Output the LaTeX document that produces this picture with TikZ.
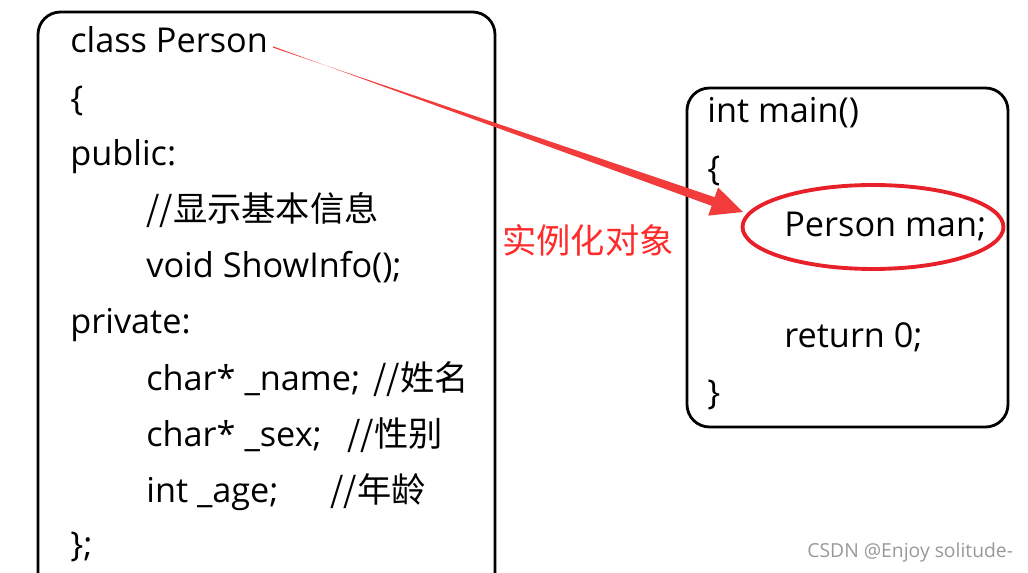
\documentclass[tikz,border=0pt]{standalone}
\usepackage{fontspec}
\setmainfont{Open Sans}
\newfontfamily\cjk{Noto Sans CJK SC}
\usetikzlibrary{shapes.geometric,calc}
\definecolor{ringred}{HTML}{E8202A}
\definecolor{arrred}{HTML}{F23C3C}
\definecolor{labred}{HTML}{FF2A2A}

\begin{document}
\begin{tikzpicture}[x=0.02cm,y=-0.02cm,
  codebox/.style={line width=1.6pt,rounded corners=0.45cm},
  code/.style={anchor=base west,inner sep=0pt,font=\fontsize{19.5}{21}\selectfont},
  cmt/.style={code,font=\fontsize{19.5}{21}\selectfont\cjk}]
 	\clip (0,0) rectangle (1028,573);
 	
 	% class box
 	\draw[codebox] (38,12) rectangle (495,640);
 	\node[code] (cls)  at (70,53)  {class Person};
 	\node[code] (lb1)  at (70,111) {\{};
 	\node[code] (pub)  at (70,166) {public:};
 	\node[cmt]  (c1)   at (146,222) {//显示基本信息};
 	\node[code] (show) at (146,278) {void ShowInfo();};
 	\node[code] (priv) at (70,334) {private:};
 	\node[code] (nm)   at (146,391) {char* \_name;};
 	\node[cmt]  (c2)   at (373,391) {//姓名};
 	\node[code] (sx)   at (146,447) {char* \_sex;};
 	\node[cmt]  (c3)   at (347,447) {//性别};
 	\node[code] (ag)   at (146,503) {int \_age;};
 	\node[cmt]  (c4)   at (330,503) {//年龄};
 	\node[code] (rb1)  at (70,557) {\};};
 	
 	% main box
 	\draw[codebox] (687,88) rectangle (1008,427);
 	\node[code] (mn)   at (707,123) {int main()};
 	\node[code] (lb2)  at (707,181) {\{};
 	\node[code] (man)  at (784,237) {Person man;};
 	\node[code] (ret)  at (784,348) {return 0;};
 	\node[code] (rb2)  at (707,405) {\}};
 	
 	\node[ellipse,draw=ringred,line width=2.2pt,minimum width=5.22cm,minimum height=1.68cm] (ring) at (873,227) {};
 	
 	% tapered arrow
 	\coordinate (arrfrom) at (273,47);
 	\coordinate (arrto)   at (743,212);
 	\coordinate (hb) at ($(arrto)!18pt!(arrfrom)$);
 	\fill[arrred] ($(arrfrom)!0.35pt!90:(arrto)$) -- ($(hb)!2.6pt!-90:(arrto)$)
 		-- ($(hb)!8.5pt!-90:(arrto)$) -- (arrto) -- ($(hb)!8.5pt!90:(arrto)$)
 		-- ($(hb)!2.6pt!90:(arrto)$) -- ($(arrfrom)!0.35pt!-90:(arrto)$) -- cycle;
 	
 	\node[text=labred,font=\fontsize{19.5}{21}\selectfont\cjk] (lab) at (588,240) {实例化对象};
 	
 	\node[code,text=black!40,font=\fontsize{11}{12}\selectfont] (wm) at (807,558) {CSDN @Enjoy solitude-};
 	
\end{tikzpicture}
\end{document}
